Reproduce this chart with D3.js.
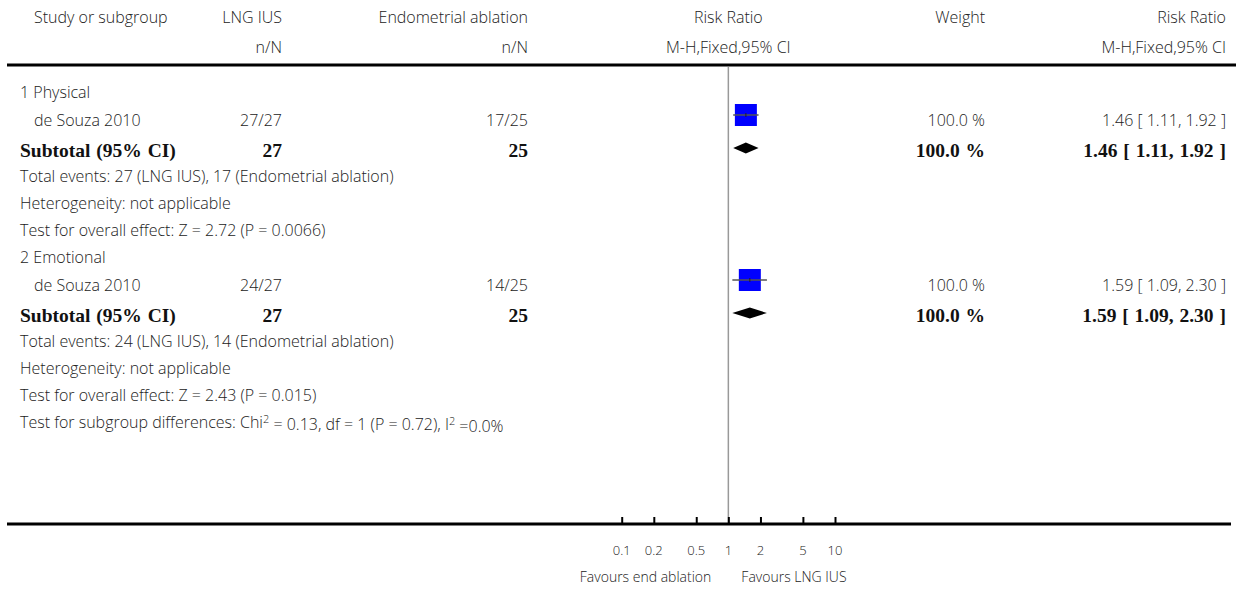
<!DOCTYPE html>
<html>
<head>
<meta charset="utf-8">
<script src="https://cdn.jsdelivr.net/npm/d3@7"></script>
<style>
  body { margin: 0; background: #fff; }
  svg text { font-family: "Open Sans", Lato, sans-serif; font-size: 16px; font-weight: 300; fill: #222; }
  svg text.bold { font-family: "Liberation Serif", "DejaVu Serif", serif; font-weight: bold; font-size: 19.5px; fill: #111; word-spacing: 1px; }
  svg text.tick { font-size: 13px; }
  svg text.fav { font-size: 14px; }
</style>
</head>
<body>
<svg id="chart" width="1236" height="592"></svg>
<script>
// data
const subgroups = ["1 Physical", "2 Emotional"];
const studyNames = ["de Souza 2010", "de Souza 2010"];
const lngEvents = [27, 24];
const lngTotal = [27, 27];
const ablEvents = [17, 14];
const ablTotal = [25, 25];
const riskRatio = [1.46, 1.59];
const ciLow = [1.11, 1.09];
const ciHigh = [1.92, 2.30];
const weights = [100.0, 100.0];
const zValues = ["2.72", "2.43"];
const pValues = ["0.0066", "0.015"];
const axisTicks = [0.1, 0.2, 0.5, 1, 2, 5, 10];

const svg = d3.select("#chart");
const fmt = d3.format(".2f");

// columns
const colStudy = 20, colLng = 282, colAbl = 528, colWeight = 985, colCI = 1226;

// log axis for the risk ratio
const x = d3.scaleLog().domain([0.1, 10]).range([621.7, 835]);
const boxSize = d3.scaleLinear().domain([0, 100]).range([0, 22]);

function txt(xp, yp, s, anchor, cls) {
  return svg.append("text")
    .attr("x", xp).attr("y", yp)
    .attr("dy", "0.35em")
    .attr("text-anchor", anchor || "start")
    .attr("class", cls || null)
    .text(s);
}

// header
txt(34, 17, "Study or subgroup");
txt(colLng, 17, "LNG IUS", "end");
txt(colAbl, 17, "Endometrial ablation", "end");
txt(x(1), 17, "Risk Ratio", "middle");
txt(colWeight, 17, "Weight", "end");
txt(colCI, 17, "Risk Ratio", "end");
txt(colLng, 47, "n/N", "end");
txt(colAbl, 47, "n/N", "end");
txt(x(1), 47, "M-H,Fixed,95% CI", "middle");
txt(colCI, 47, "M-H,Fixed,95% CI", "end");

svg.append("line").attr("x1", 7).attr("x2", 1236).attr("y1", 65).attr("y2", 65)
  .attr("stroke", "#000").attr("stroke-width", 3);

const plotTop = 67, axisY = 524;

// line of no effect
svg.append("line").attr("x1", x(1)).attr("x2", x(1)).attr("y1", plotTop).attr("y2", axisY)
  .attr("stroke", "#999").attr("stroke-width", 1.5);

let y = 92;
subgroups.forEach((g, i) => {
  txt(colStudy, y, g);
  // study row
  const ys = y + 28;
  txt(34, ys, studyNames[i]);
  txt(colLng, ys, lngEvents[i] + "/" + lngTotal[i], "end");
  txt(colAbl, ys, ablEvents[i] + "/" + ablTotal[i], "end");
  txt(colWeight, ys, d3.format(".1f")(weights[i]) + " %", "end");
  txt(colCI, ys, fmt(riskRatio[i]) + " [ " + fmt(ciLow[i]) + ", " + fmt(ciHigh[i]) + " ]", "end");
  const s = boxSize(weights[i]);
  const my = ys - 5;
  svg.append("rect")
    .attr("x", x(riskRatio[i]) - s / 2).attr("y", my - s / 2)
    .attr("width", s).attr("height", s)
    .attr("fill", "#0000ff");
  svg.append("line")
    .attr("x1", x(ciLow[i])).attr("x2", x(ciHigh[i]))
    .attr("y1", my).attr("y2", my)
    .attr("stroke", "#555").attr("stroke-width", 1.5);
  svg.append("line")
    .attr("x1", x(riskRatio[i])).attr("x2", x(riskRatio[i]))
    .attr("y1", my - 2).attr("y2", my + 2)
    .attr("stroke", "#222").attr("stroke-width", 1);

  // subtotal row
  const yt = ys + 30;
  txt(colStudy, yt, "Subtotal (95% CI)", "start", "bold");
  txt(colLng, yt, lngTotal[i], "end", "bold");
  txt(colAbl, yt, ablTotal[i], "end", "bold");
  txt(colWeight, yt, d3.format(".1f")(weights[i]) + " %", "end", "bold");
  txt(colCI, yt, fmt(riskRatio[i]) + " [ " + fmt(ciLow[i]) + ", " + fmt(ciHigh[i]) + " ]", "end", "bold");
  const dy = yt - 2;
  svg.append("path")
    .attr("d", `M${x(ciLow[i])},${dy} L${x(riskRatio[i])},${dy - 5.5} L${x(ciHigh[i])},${dy} L${x(riskRatio[i])},${dy + 5.5} Z`)
    .attr("fill", "#000");

  txt(colStudy, yt + 26, `Total events: ${lngEvents[i]} (LNG IUS), ${ablEvents[i]} (Endometrial ablation)`);
  txt(colStudy, yt + 53, "Heterogeneity: not applicable");
  txt(colStudy, yt + 80, `Test for overall effect: Z = ${zValues[i]} (P = ${pValues[i]})`);
  y = yt + 107;
});

// subgroup differences
const sd = svg.append("text").attr("x", colStudy).attr("y", y).attr("dy", "0.35em");
sd.append("tspan").text("Test for subgroup differences: Chi");
sd.append("tspan").attr("dy", "-0.4em").style("font-size", "11px").text("2");
sd.append("tspan").attr("dy", "0.4em").text(" = 0.13, df = 1 (P = 0.72), I");
sd.append("tspan").attr("dy", "-0.4em").style("font-size", "11px").text("2");
sd.append("tspan").attr("dy", "0.4em").text(" =0.0%");

// bottom rule and axis
svg.append("line").attr("x1", 7).attr("x2", 1231).attr("y1", axisY).attr("y2", axisY)
  .attr("stroke", "#000").attr("stroke-width", 3);

const axis = d3.axisTop(x).tickValues(axisTicks).tickSize(7).tickFormat(d3.format("~g"));
const ag = svg.append("g").attr("transform", `translate(0,${axisY})`).call(axis);
ag.select(".domain").remove();
ag.selectAll(".tick line").attr("stroke", "#000").attr("stroke-width", 2);
ag.selectAll(".tick text").remove();

svg.selectAll(".ticklabel").data(axisTicks).enter().append("text")
  .attr("class", "tick")
  .attr("x", d => x(d)).attr("y", 550).attr("dy", "0.35em")
  .attr("text-anchor", "middle")
  .text(d => d3.format("~g")(d));

txt(x(1) - 17, 577, "Favours end ablation", "end", "fav");
txt(x(1) + 13, 577, "Favours LNG IUS", "start", "fav");
</script>
</body>
</html>
